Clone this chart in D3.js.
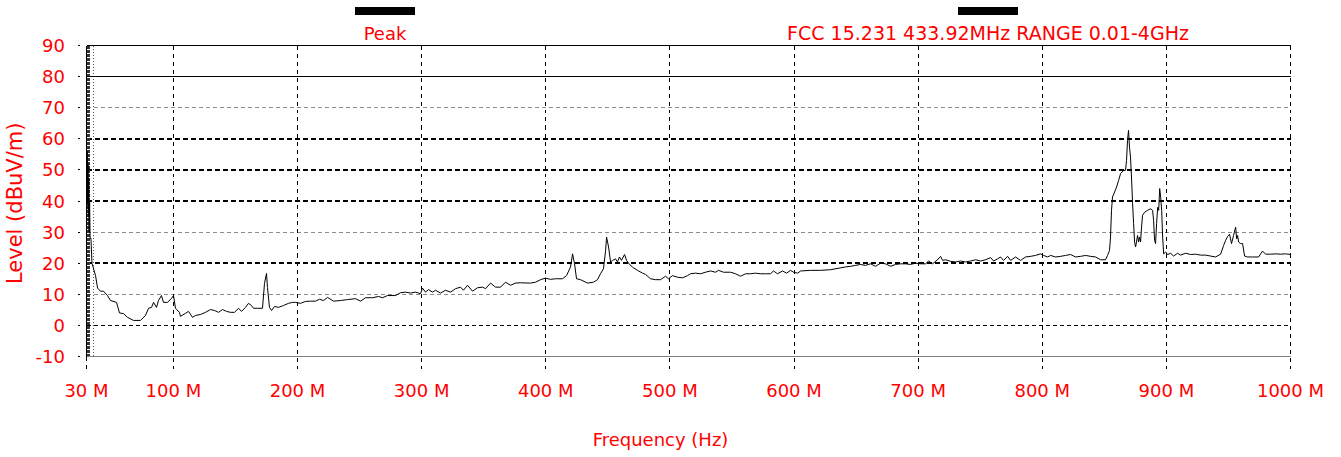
<!DOCTYPE html>
<html>
<head>
<meta charset="utf-8">
<script src="https://cdn.jsdelivr.net/npm/d3@7"></script>
<style>
  html, body { margin: 0; padding: 0; background: #fff; }
  svg { display: block; }
  text { font-family: "DejaVu Sans", sans-serif; fill: #ff0000; }
</style>
</head>
<body>
<svg id="chart" width="1341" height="457"></svg>
<script>
// Radiated emission sweep, 30 MHz – 1 GHz (peak detector)
const freqMHz = [
  30.0, 30.3, 30.6, 30.9, 31.2, 31.5, 31.8, 32.1, 32.5, 32.9, 33.2, 33.6, 34.4, 37.3, 38.9,
  41.3, 43.7, 46.9, 49.3, 54.2, 56.6, 59.8, 63.0, 67.9, 73.5, 77.5, 80.0, 82.4, 84.0, 86.4,
  88.0, 90.4, 92.0, 95.3, 98.5, 100.1, 101.7, 104.9, 105.7, 109.8, 112.2, 115.4, 117.8, 121.8, 125.9,
  129.9, 133.1, 136.4, 139.6, 142.8, 146.0, 149.2, 152.5, 154.9, 158.1, 160.5, 162.9, 164.6, 167.8, 171.8,
  173.4, 175.0, 175.8, 177.4, 179.1, 181.5, 184.7, 188.7, 192.8, 196.0, 198.4, 202.4, 206.4, 210.5, 214.5,
  217.7, 221.0, 224.2, 229.0, 234.7, 240.3, 246.7, 250.8, 254.8, 260.4, 265.3, 268.5, 272.5, 279.0, 283.0,
  287.0, 291.0, 295.1, 299.1, 300.7, 303.1, 305.5, 308.8, 311.2, 315.2, 319.2, 323.3, 327.3, 331.3, 333.7,
  337.0, 341.0, 345.0, 349.1, 351.5, 355.5, 359.5, 363.6, 367.6, 371.6, 375.6, 379.7, 387.7, 391.8, 395.8,
  399.8, 403.8, 407.8, 413.5, 416.7, 419.9, 421.6, 423.2, 424.8, 428.0, 433.7, 438.5, 441.7, 444.1, 446.5,
  448.2, 449.0, 450.6, 452.2, 453.8, 456.2, 457.8, 459.4, 461.0, 463.5, 465.1, 466.7, 469.9, 473.9, 478.0,
  480.4, 484.4, 488.4, 492.5, 496.5, 498.9, 502.1, 506.1, 510.2, 514.2, 516.6, 520.7, 524.7, 528.7, 532.8,
  536.8, 539.2, 543.2, 548.9, 552.9, 556.9, 561.0, 565.0, 569.0, 573.0, 577.1, 581.1, 583.5, 586.7, 590.8,
  594.0, 597.2, 599.6, 602.9, 605.3, 613.3, 621.4, 629.4, 637.5, 641.5, 645.6, 649.6, 653.6, 657.6, 661.7,
  665.7, 669.7, 673.7, 677.8, 681.8, 685.8, 689.9, 693.9, 697.9, 701.9, 706.0, 708.4, 711.6, 715.6, 718.1,
  719.7, 722.1, 726.1, 730.2, 734.2, 738.2, 742.2, 746.3, 750.3, 754.3, 758.4, 760.8, 764.0, 766.4, 768.8,
  772.1, 774.5, 778.5, 782.5, 786.6, 790.6, 794.6, 798.6, 801.1, 804.3, 806.7, 810.7, 814.8, 818.8, 822.8,
  826.8, 830.9, 834.9, 838.9, 842.9, 847.0, 851.0, 852.6, 854.2, 855.0, 855.8, 856.6, 858.3, 859.9, 861.5,
  863.1, 865.5, 867.1, 867.9, 868.7, 869.5, 870.3, 871.1, 871.9, 872.8, 873.6, 874.4, 875.2, 876.8, 877.6,
  878.4, 879.2, 880.0, 880.8, 882.5, 884.9, 887.3, 888.9, 889.7, 890.5, 891.3, 892.1, 893.0, 893.8, 894.6,
  895.4, 896.2, 897.0, 897.8, 899.4, 901.0, 903.4, 905.8, 909.0, 911.5, 915.5, 919.5, 923.5, 927.6, 931.6,
  935.6, 939.6, 943.7, 946.1, 947.7, 949.3, 950.9, 952.5, 954.1, 955.8, 956.6, 957.4, 958.2, 959.8, 961.4,
  963.0, 965.4, 969.4, 974.3, 977.5, 979.9, 983.9, 988.0, 992.0, 996.0, 1000.0
];
const levelDbuv = [
  50.0, 38.0, 56.0, 40.0, 52.0, 35.0, 47.0, 30.0, 40.0, 28.0, 28.0, 28.0, 20.0, 16.0, 12.0,
  11.0, 11.0, 9.6, 8.0, 7.4, 4.0, 3.8, 2.6, 1.6, 1.6, 3.2, 5.5, 5.8, 7.4, 5.8,
  8.0, 9.6, 7.4, 7.4, 8.7, 9.6, 5.5, 4.2, 2.9, 3.9, 4.5, 2.6, 3.2, 3.5, 4.2,
  5.1, 4.8, 4.2, 5.1, 4.5, 4.2, 4.2, 5.5, 4.5, 5.8, 7.1, 6.4, 5.5, 5.5, 5.5,
  13.5, 16.7, 12.2, 5.8, 4.8, 6.1, 5.8, 6.4, 7.1, 7.4, 7.4, 7.1, 7.7, 7.8, 7.8,
  8.4, 8.0, 9.0, 7.8, 8.0, 8.3, 8.6, 7.8, 8.9, 8.9, 9.3, 8.9, 9.6, 9.6, 10.5,
  10.7, 10.4, 10.7, 10.2, 12.0, 10.7, 11.5, 10.7, 11.3, 10.4, 11.3, 10.7, 11.8, 12.3, 11.3,
  12.9, 11.0, 12.1, 12.3, 11.8, 13.6, 12.3, 12.3, 13.9, 12.9, 13.6, 13.7, 13.6, 13.9, 14.7,
  15.2, 14.8, 15.0, 15.0, 16.0, 18.7, 23.0, 19.8, 15.0, 14.7, 13.6, 13.9, 14.7, 16.6, 18.2,
  24.0, 28.4, 25.2, 20.4, 20.9, 21.4, 20.4, 22.0, 20.9, 22.8, 20.9, 20.0, 18.7, 17.7, 16.8,
  16.4, 15.0, 14.7, 14.7, 15.8, 15.0, 16.0, 15.5, 15.3, 16.0, 16.6, 16.8, 16.6, 17.1, 17.5,
  17.1, 17.7, 17.1, 17.1, 16.6, 15.8, 16.6, 16.6, 16.8, 16.6, 16.6, 16.6, 17.5, 16.6, 17.5,
  16.8, 17.7, 17.1, 16.8, 17.5, 17.7, 17.7, 17.9, 18.5, 18.8, 19.0, 19.3, 19.6, 19.3, 19.8,
  19.0, 20.0, 19.8, 19.0, 19.6, 19.8, 19.8, 19.6, 20.0, 19.8, 19.8, 20.7, 19.8, 21.1, 22.2,
  20.9, 21.1, 20.6, 20.4, 20.7, 20.4, 20.7, 21.1, 20.7, 21.1, 21.8, 20.7, 21.4, 22.0, 20.9,
  22.2, 20.9, 22.0, 20.9, 22.0, 22.2, 22.5, 23.0, 22.5, 22.0, 22.5, 22.0, 22.2, 22.5, 22.8,
  22.0, 22.2, 22.5, 22.2, 22.0, 21.1, 21.1, 22.5, 24.1, 28.4, 37.0, 41.3, 42.9, 44.5, 46.6,
  48.8, 49.8, 49.9, 53.0, 59.5, 62.7, 57.3, 54.1, 47.7, 39.1, 32.7, 26.8, 25.2, 28.9, 26.8,
  28.4, 26.8, 31.6, 35.4, 36.4, 37.0, 37.5, 37.0, 33.8, 27.3, 26.3, 32.7, 38.0, 37.0, 44.0,
  41.3, 37.0, 28.4, 23.0, 23.6, 22.8, 23.2, 22.3, 23.2, 22.6, 23.2, 22.8, 22.9, 22.6, 22.6,
  22.3, 22.0, 22.9, 25.7, 27.3, 28.6, 29.3, 26.3, 28.9, 31.6, 27.8, 28.9, 26.8, 26.3, 26.3,
  22.3, 22.0, 22.0, 22.0, 23.9, 22.9, 22.9, 23.0, 22.9, 23.0, 22.8
];

const levelTicks = [-10, 0, 10, 20, 30, 40, 50, 60, 70, 80, 90];
const freqTicks = [30, 100, 200, 300, 400, 500, 600, 700, 800, 900, 1000];
const freqTickLabels = ["30 M", "100 M", "200 M", "300 M", "400 M", "500 M",
                        "600 M", "700 M", "800 M", "900 M", "1000 M"];
const heavyGridLevels = [60, 50, 40, 20];
const lightGridLevels = [70, 30, 10];
const zeroLevel = 0;
const limitLevel = 80;
const legendLabels = ["Peak", "FCC 15.231 433.92MHz RANGE 0.01-4GHz"];
const yTitle = "Level (dBuV/m)";
const xTitle = "Frequency (Hz)";

const svg = d3.select("#chart");

const x = d3.scaleLinear().domain([30, 1000]).range([86.5, 1290.5]);
const y = d3.scaleLinear().domain([-10, 90]).range([356.5, 45.5]);

const plotLeft = x.range()[0], plotRight = x.range()[1];
const plotTop = y.range()[1], plotBottom = y.range()[0];

const grid = svg.append("g").attr("shape-rendering", "crispEdges");

// light grey dashed level lines
grid.selectAll(".light").data(lightGridLevels).join("line")
  .attr("x1", plotLeft).attr("x2", plotRight)
  .attr("y1", d => y(d)).attr("y2", d => y(d))
  .attr("stroke", "#8c8c8c").attr("stroke-width", 1).attr("stroke-dasharray", "4,3");

// heavy black dashed level lines
grid.selectAll(".heavy").data(heavyGridLevels).join("line")
  .attr("x1", plotLeft).attr("x2", plotRight)
  .attr("y1", d => y(d)).attr("y2", d => y(d))
  .attr("stroke", "#000").attr("stroke-width", 2).attr("stroke-dasharray", "5,3");

// zero level
grid.append("line")
  .attr("x1", plotLeft).attr("x2", plotRight)
  .attr("y1", y(zeroLevel)).attr("y2", y(zeroLevel))
  .attr("stroke", "#000").attr("stroke-width", 1).attr("stroke-dasharray", "4,3");

// vertical frequency grid, continuing below the axis as ticks
grid.selectAll(".vgrid").data(freqTicks.slice(1)).join("line")
  .attr("x1", d => x(d)).attr("x2", d => x(d))
  .attr("y1", plotTop).attr("y2", plotBottom + 12)
  .attr("stroke", "#000").attr("stroke-width", 1).attr("stroke-dasharray", "4,4");

// sweep-start marker lines next to the left edge
[30.8, 31.6, 32.4].forEach(f => {
  grid.append("line")
    .attr("x1", x(f)).attr("x2", x(f)).attr("y1", plotTop).attr("y2", plotBottom)
    .attr("stroke", "#333").attr("stroke-width", 1).attr("stroke-dasharray", "3,1");
});
grid.append("line")
  .attr("x1", x(36)).attr("x2", x(36)).attr("y1", plotTop).attr("y2", plotBottom)
  .attr("stroke", "#555").attr("stroke-width", 1).attr("stroke-dasharray", "1,2");

// left-side level ticks
grid.selectAll(".ltick").data(levelTicks).join("line")
  .attr("x1", plotLeft - 9).attr("x2", plotLeft - 7)
  .attr("y1", d => y(d)).attr("y2", d => y(d))
  .attr("stroke", "#000").attr("stroke-width", 1);

// bottom axis line
grid.append("line")
  .attr("x1", plotLeft).attr("x2", plotRight).attr("y1", plotBottom).attr("y2", plotBottom)
  .attr("stroke", "#808080").attr("stroke-width", 1);

// top frame and limit line
grid.append("line")
  .attr("x1", plotLeft).attr("x2", plotRight).attr("y1", plotTop).attr("y2", plotTop)
  .attr("stroke", "#000").attr("stroke-width", 1);
grid.append("line")
  .attr("x1", plotLeft).attr("x2", plotRight).attr("y1", y(limitLevel)).attr("y2", y(limitLevel))
  .attr("stroke", "#000").attr("stroke-width", 1);

// left frame with tick below axis
grid.append("line")
  .attr("x1", plotLeft).attr("x2", plotLeft).attr("y1", plotTop).attr("y2", plotBottom)
  .attr("stroke", "#000").attr("stroke-width", 1);
grid.append("line")
  .attr("x1", plotLeft).attr("x2", plotLeft).attr("y1", plotBottom).attr("y2", plotBottom + 12)
  .attr("stroke", "#000").attr("stroke-width", 1).attr("stroke-dasharray", "4,4");

// measured trace
const trace = freqMHz.map((f, i) => [f, levelDbuv[i]]);
svg.append("path")
  .datum(trace)
  .attr("fill", "none")
  .attr("stroke", "#000")
  .attr("stroke-width", 1)
  .attr("d", d3.line().x(d => x(d[0])).y(d => y(d[1])));

// level tick labels
svg.selectAll(".ylab").data(levelTicks).join("text")
  .attr("x", 65).attr("y", d => y(d) + 6.5)
  .attr("text-anchor", "end").attr("font-size", 18)
  .text(d => d);

// frequency tick labels
svg.selectAll(".xlab").data(freqTicks).join("text")
  .attr("x", d => x(d)).attr("y", 397)
  .attr("text-anchor", "middle").attr("font-size", 18)
  .text((d, i) => freqTickLabels[i]);

// axis titles
svg.append("text")
  .attr("x", (plotLeft + plotRight) / 2 - 28).attr("y", 446)
  .attr("text-anchor", "middle").attr("font-size", 18)
  .text(xTitle);
svg.append("text")
  .attr("transform", "translate(22,284) rotate(-90)")
  .attr("text-anchor", "start").attr("font-size", 21)
  .text(yTitle);

// legend: bar swatch above each label
const legendCenters = [385, 988];
const legendFontSizes = [18, 19];
legendLabels.forEach((lab, i) => {
  svg.append("rect")
    .attr("x", legendCenters[i] - 30).attr("y", 7)
    .attr("width", 60).attr("height", 8)
    .attr("fill", "#000");
  svg.append("text")
    .attr("x", legendCenters[i]).attr("y", 40)
    .attr("text-anchor", "middle").attr("font-size", legendFontSizes[i])
    .text(lab);
});
</script>
</body>
</html>
